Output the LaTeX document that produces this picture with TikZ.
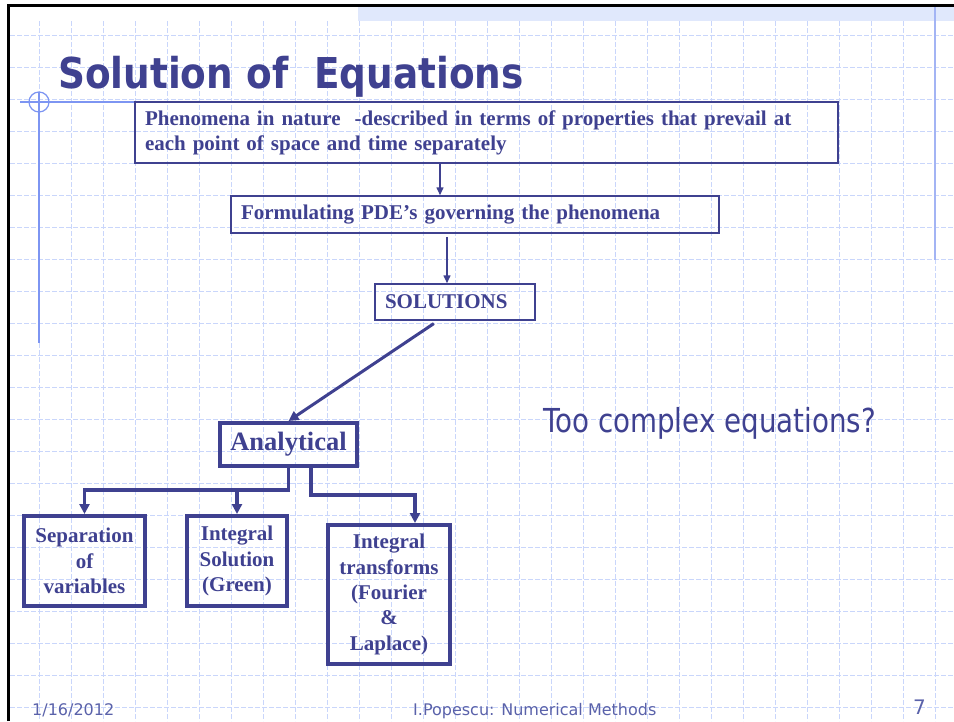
\documentclass[tikz,border=0pt]{standalone}
\usepackage{fontspec}
\setmainfont{Liberation Serif}
\newfontfamily\titlefont[FakeStretch=0.88]{DejaVu Sans}
\newfontfamily\notefont[FakeStretch=0.84]{DejaVu Sans}
\newfontfamily\footfont{DejaVu Sans}
\usepackage{xcolor}
\definecolor{colNavy}{HTML}{3F4190}
\definecolor{colFoot}{HTML}{5A62AA}
\definecolor{colGrid}{HTML}{C9D6FB}
\definecolor{colGuide}{HTML}{7D95F2}
\definecolor{colGuideLight}{HTML}{A3B4F4}
\definecolor{colBand}{HTML}{E0E8FC}
\usepackage{tikz}
\usetikzlibrary{arrows.meta}
\tikzset{
    flowbox/.style={
        draw=colNavy, line width=1.5pt, text=colNavy,
        inner sep=0pt, inner xsep=10pt,
        align=left,
        font=\bfseries\fontsize{21}{25}\selectfont
    },
    treebox/.style={
        draw=colNavy, line width=4pt, text=colNavy,
        inner sep=0pt,
        align=center,
        font=\bfseries\fontsize{21}{25.3}\selectfont
    },
    flowarrow/.style={-{Triangle[length=8pt,width=7pt]}, line width=1.5pt, draw=colNavy},
    treearrow/.style={-{Triangle[length=10pt,width=10pt]}, line width=3.5pt, draw=colNavy},
    gridline/.style={colGrid, line width=0.9pt, dash pattern=on 5pt off 2pt},
    footnote/.style={anchor=base west, inner sep=0pt, text=colFoot, font=\footfont\fontsize{16}{18}\selectfont},
}

\begin{document}
\begin{tikzpicture}[x=1pt, y=-1pt]
    \useasboundingbox (0,0) rectangle (954,721);
    \fill[white] (0,0) rectangle (954,721);
    \fill[colBand] (358,6) rectangle (954,21);
    \foreach \gx in {39,71,...,935}
        \draw[gridline] (\gx,21) -- (\gx,721);
    \foreach \gy in {35,67,...,707}
        \draw[gridline] (10,\gy) -- (954,\gy);
    \draw[black, line width=3pt] (8.5,721) -- (8.5,5) -- (954,5);
    \draw[colGuideLight, line width=2pt] (935,7) -- (935,260);
    \draw[colGuide, line width=2.5pt] (39,92) -- (39,343);
    \draw[colGuide, line width=1.5pt] (20,102) -- (195,102);
    \draw[colGuide, line width=1.2pt] (39,102) circle[radius=10];

    \node[anchor=base west, inner sep=0pt, text=colNavy,
          font=\titlefont\bfseries\fontsize{42.5}{45}\selectfont] (title)
          at (58,88) {Solution of~ Equations};

    \node[flowbox, text width=683pt, minimum height=61pt] (pheno) at (486.5,132.5)
          {Phenomena in nature~ -described in terms of properties that prevail at\\
           each point of space and time separately};
    \node[flowbox, text width=468pt, minimum height=37pt] (form) at (475,214.5)
          {Formulating PDE’s governing the phenomena};
    \node[flowbox, text width=140pt, minimum height=36pt] (sol) at (455,302)
          {SOLUTIONS};

    \node[treebox, font=\bfseries\fontsize{26.5}{30}\selectfont,
          minimum width=137pt, minimum height=43pt] (ana) at (288.5,444.5) {Analytical};
    \node[treebox, minimum width=121pt, minimum height=90pt] (sepv) at (84.5,561)
          {Separation\\of\\variables};
    \node[treebox, minimum width=100pt, minimum height=90pt] (isol) at (237,561)
          {Integral\\Solution\\(Green)};
    \node[treebox, minimum width=122pt, minimum height=139pt] (trans) at (389,594.5)
          {Integral\\transforms\\(Fourier\\\&\\Laplace)};

    \draw[flowarrow] ([xshift=-46.5pt]pheno.south) -- ([xshift=-35pt]form.north);
    \draw[flowarrow, shorten <=3pt] ([xshift=-28pt]form.south) -- ([xshift=-8pt]sol.north);
    \draw[treearrow, line width=3pt, shorten <=5pt] ([xshift=-17pt]sol.south) -- (ana.north);
    \draw[treearrow] (ana.south) -- ++(0,22) -| (sepv.north);
    \draw[treearrow] (ana.south) ++(0,22) -| (isol.north);
    \draw[treearrow] ([xshift=22.5pt]ana.south) -- ++(0,27) -| ([xshift=26pt]trans.north);

    \node[anchor=base west, inner sep=0pt, text=colNavy,
          font=\notefont\fontsize{33}{36}\selectfont] (quest)
          at (543,432) {Too complex equations?};

    \node[footnote] (date) at (32,715) {1/16/2012};
    \node[footnote] (author) at (413,715) {I.Popescu: Numerical Methods};
    \node[footnote, anchor=base east, font=\footfont\fontsize{20}{22}\selectfont] (page)
          at (926,714) {7};
\end{tikzpicture}
\end{document}
